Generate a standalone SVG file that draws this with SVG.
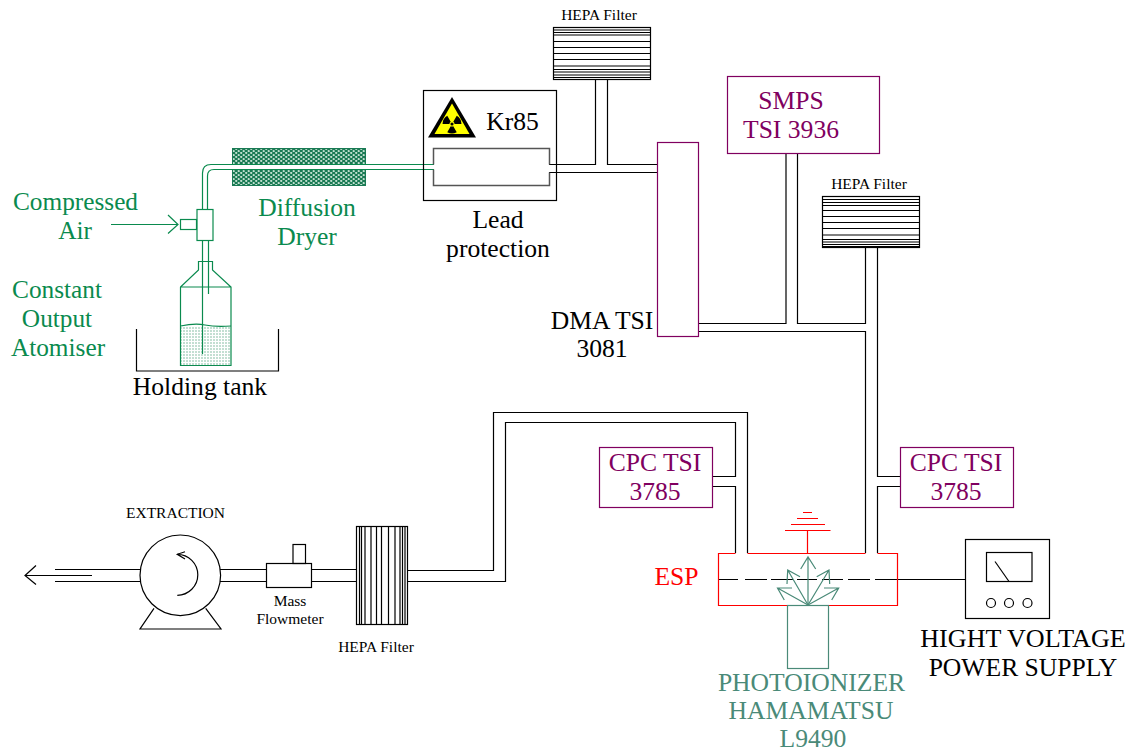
<svg xmlns="http://www.w3.org/2000/svg" width="1134" height="751" viewBox="0 0 1134 751">
<defs>
<style>
text{font-family:"Liberation Serif","Times New Roman",serif;text-anchor:middle}
.g{fill:#0a8a4e}.k{fill:#000}.p{fill:#800060}.t{fill:#4a8a78}.r{fill:#ff0000}
.l{font-size:25.6px}.s{font-size:15.5px}
.bk{fill:none;stroke:#000;stroke-width:1.2}
.gr{fill:none;stroke:#0a8a4e;stroke-width:1.2}
.pu{fill:none;stroke:#800060;stroke-width:1.2}
.rd{fill:none;stroke:#ff0000;stroke-width:1.2}
.te{fill:none;stroke:#4a8a78;stroke-width:1.2}
</style>
<pattern id="dry" width="5" height="4" patternUnits="userSpaceOnUse"><rect width="5" height="4" fill="#1a7a54"/><circle cx="1.2" cy="1" r="1.1" fill="#c4e2d2"/><circle cx="3.700" cy="3" r="1.1" fill="#c4e2d2"/></pattern>
<pattern id="liq" width="3" height="3" patternUnits="userSpaceOnUse"><rect width="3" height="3" fill="#fff"/><circle cx="1" cy="1" r=".7" fill="#5aa884"/></pattern>
</defs>
<rect width="1134" height="751" fill="#fff"/>
<g id="connectors">
<path class="gr" d="M202.500 209V173Q202.500 164.500 211 164.500H434M207.500 209V176Q207.500 169.500 214 169.500H434"/>
<path class="gr" d="M202.500 240V261M208.500 240V261"/>
<path class="gr" d="M111 224.500H178M168 215L178 224.500L168 233.500"/>
<path class="bk" d="M549 164.500H595.500V79M607.500 79V164.500H658M549 172.500H658"/>
<path class="bk" d="M699 323.500H786V153M797.500 153V323.500H865.500V248M877.500 248V476.500H900M699 331.500H865.500V553M877.500 553V486.500H900"/>
<path class="bk" d="M712 476.500H735.500V422.500H505.500V581.500H408M712 486.500H735.500V553M747.500 553V412.500H493.500V570.500H408"/>
<path class="bk" d="M55 569.500H140M55 581.500H140M25 575.500H92M36 565.500L25 575.500L36 584.500"/>
<path class="bk" d="M220 569.500H267M220 581.500H267M311 569.500H357M311 581.500H357"/>
<path class="bk" d="M718 579.500H738M745 579.500H767M771 579.500H793M797 579.500H817M822 579.500H843M848 579.500H870M875 579.500H965"/>
</g>
<g id="atomiser">
<rect x="181" y="326" width="50" height="39" fill="url(#liq)"/>
<rect class="gr" x="180.500" y="219.500" width="16" height="10"/>
<rect class="gr" x="197" y="209.500" width="16" height="31"/>
<path class="gr" d="M180.500 287V365.500H231V287L212.500 270V261.500H198.500V270ZM180.500 287H231"/>
<path class="gr" d="M180.500 326Q195 323 205 325T231 326"/>
<path class="gr" d="M202.500 261V354M208.500 261V294"/>
<text class="g" font-size="25.300" x="75.500" y="209.800">Compressed</text><text class="g" font-size="25.300" x="75" y="238.800">Air</text>
<text class="g" font-size="25.300" x="57" y="297.800">Constant</text><text class="g" font-size="25.300" x="57" y="326.800">Output</text><text class="g" font-size="25.300" x="58" y="355.800">Atomiser</text>
</g>
<g id="holding-tank"><path class="bk" d="M136.500 329V371H278.500V329"/><text class="k l" x="200" y="394.500">Holding tank</text></g>
<g id="dryer">
<rect x="232.500" y="148.500" width="133" height="37" fill="url(#dry)" stroke="#1a7a54"/>
<rect x="232" y="164.500" width="134" height="5" fill="#fff"/>
<path class="gr" d="M232 164.500H366M232 169.500H366"/>
<text class="g l" x="307" y="215.800">Diffusion</text><text class="g l" x="307" y="244.800">Dryer</text>
</g>
<g id="kr85">
<rect class="bk" x="423.500" y="90.500" width="133" height="110"/>
<path d="M433.500 164.500V148.500H549.500V164.500M549.500 172.500V185.500H433.500V169.500" fill="none" stroke="#555" stroke-width="1.5"/>
<path d="M452 97L476 137.500H428Z" fill="#000"/>
<path d="M452 103.500L469.500 134H434.500Z" fill="#ffff00"/>
<g transform="translate(452 124) scale(.86) translate(-452 -123)">
<path d="M450.500 120.400L446.500 113.500A11 11 0 0 0 441 123H449A3 3 0 0 1 450.500 120.400ZM453.500 120.400L457.500 113.500A11 11 0 0 1 463 123H455A3 3 0 0 0 453.500 120.400ZM450.500 125.600L446.500 132.500A11 11 0 0 0 457.500 132.500L453.500 125.600A3 3 0 0 1 450.500 125.600Z" fill="#000"/>
<circle cx="452" cy="123" r="1.800" fill="#000"/>
</g>
<text class="k" font-size="25.600" x="512.500" y="129.500">Kr85</text>
<text class="k l" x="498" y="227.800">Lead</text><text class="k l" x="498" y="256.800">protection</text>
</g>
<g id="hepa-top">
<rect class="bk" x="553.500" y="27.500" width="97" height="52"/>
<path class="bk" d="M553 30H650M553 32.500H650M553 35H650M553 41.500H650M553 47.500H650M553 53.500H650M553 59.500H650M553 66H650M553 69.500H650M553 72H650M553 75H650M553 77.500H650"/>
<text class="k s" x="599" y="20">HEPA Filter</text>
</g>
<g id="smps">
<rect class="pu" x="727.500" y="76.500" width="152" height="77"/>
<text class="p l" x="791" y="108.800">SMPS</text><text class="p l" x="791" y="137.800">TSI 3936</text>
</g>
<g id="dma">
<rect x="657.500" y="142.500" width="41" height="194" fill="#fff" stroke="#800060" stroke-width="1.2"/>
<text class="k l" x="602" y="328.800">DMA TSI</text><text class="k l" x="602" y="356.800">3081</text>
</g>
<g id="hepa-right">
<rect class="bk" x="822.500" y="196.500" width="97" height="51"/>
<path class="bk" d="M822 199.500H919M822 202.500H919M822 205.500H919M822 210.500H919M822 216.500H919M822 222.500H919M822 228.500H919M822 235H919M822 239.500H919M822 242H919M822 244.500H919M822 246.500H919"/>
<text class="k s" x="869" y="189">HEPA Filter</text>
</g>
<g id="cpc-left">
<rect class="pu" x="599.500" y="447.500" width="113" height="60"/>
<text class="p l" x="655" y="470.800">CPC TSI</text><text class="p l" x="655" y="499.800">3785</text>
</g>
<g id="cpc-right">
<rect class="pu" x="900.500" y="447.500" width="113" height="60"/>
<text class="p l" x="956" y="470.800">CPC TSI</text><text class="p l" x="956" y="499.800">3785</text>
</g>
<g id="esp">
<path class="rd" d="M735.500 553.500H718.500V605.500H897.500V553.500H877.500M747.500 553.500H865.500"/>
<path class="rd" d="M807.500 553V530.500M785 530.500H830.500M791 524.500H825M797 518.500H818M803 512.500H812"/>
<text class="r l" x="676.500" y="584.800">ESP</text>
</g>
<g id="photoionizer">
<rect class="te" x="787.500" y="605.500" width="41" height="63"/>
<path class="te" d="M808 605V557M800.700 569L808 557L815.700 569"/>
<path class="te" d="M808 605L787.700 570M800 576.700L787.700 570L787 584M808 605L829 570M816.700 576.700L829 570L829.700 584"/>
<path class="te" d="M808 605L777.500 588M792 588H777.500L784.300 600M808 605L838.700 588M824 588H838.700L831.700 600"/>
<text class="t l" x="811.500" y="690.800">PHOTOIONIZER</text><text class="t l" x="811" y="718.800">HAMAMATSU</text><text class="t l" x="813" y="746.800">L9490</text>
</g>
<g id="power-supply">
<rect class="bk" x="965.500" y="539.500" width="84" height="79"/>
<rect class="bk" x="986.500" y="552.500" width="45.500" height="29"/>
<path class="bk" d="M995 561.500L1009 581.500"/>
<circle class="bk" cx="991" cy="603" r="4.500"/><circle class="bk" cx="1009" cy="603" r="4.500"/><circle class="bk" cx="1027.500" cy="603" r="4.500"/>
<text class="k" font-size="26.100" x="1023" y="646.800">HIGHT VOLTAGE</text><text class="k l" x="1023" y="675.800">POWER SUPPLY</text>
</g>
<g id="pump">
<circle class="bk" cx="180.300" cy="575.300" r="40.300"/>
<path class="bk" d="M177.300 595.300A20.500 20.500 0 0 0 177.300 554.300M185 551.700L177.300 554.300L185 559"/>
<path class="bk" d="M154 608.300L140 629H221L205.700 608.300"/>
<text class="k s" x="175.500" y="518">EXTRACTION</text>
</g>
<g id="flowmeter">
<rect class="bk" x="266.500" y="563.500" width="45" height="24"/>
<rect class="bk" x="293" y="544.500" width="12.500" height="19"/>
<text class="k s" x="290" y="606">Mass</text><text class="k s" x="290" y="624">Flowmeter</text>
</g>
<g id="hepa-bottom">
<rect class="bk" x="356.500" y="526.500" width="51" height="98"/>
<path class="bk" d="M359.500 527V624M361.500 527V624M365 527V624M371 527V624M376.500 527V624M381.500 527V624M388.500 527V624M395 527V624M400 527V624M402.500 527V624M405 527V624"/>
<text class="k s" x="376" y="652">HEPA Filter</text>
</g>
</svg>
